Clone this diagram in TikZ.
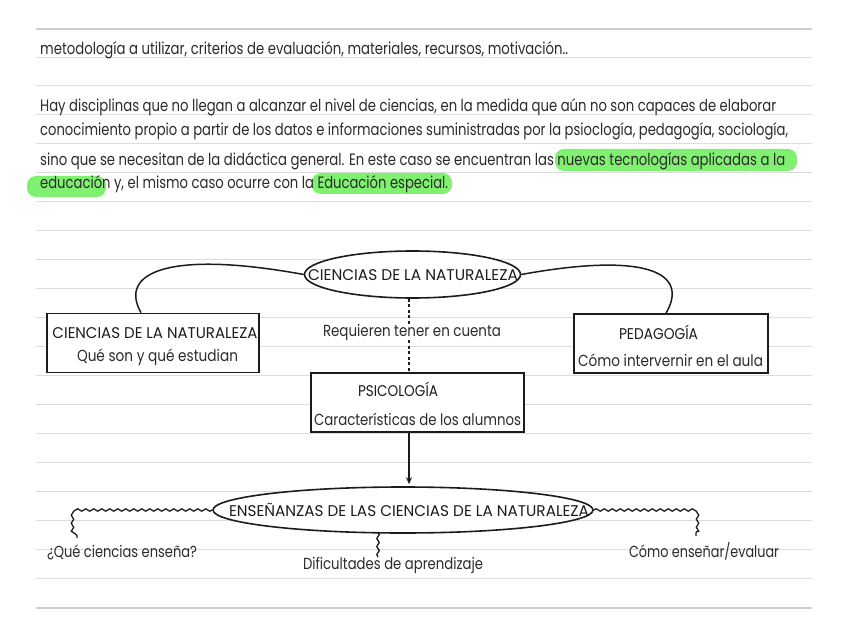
\documentclass[tikz,border=0pt]{standalone}
\usepackage{fontspec}
\setmainfont{Poppins}
\usepackage{graphicx}
\usetikzlibrary{shapes.geometric,decorations.pathmorphing,arrows.meta,calc}
\definecolor{ink}{HTML}{1C1C1C}
\definecolor{txt}{HTML}{2B2B2B}
\definecolor{rule}{HTML}{DCDCDC}
\definecolor{rulethick}{HTML}{CDCDCD}
\definecolor{hl}{RGB}{128,240,112}
\newcommand{\fw}[2]{\resizebox{#1pt}{\height}{#2}}
\begin{document}
\begin{tikzpicture}[x=1pt,y=-1pt,
  ruling/.style={draw=rule,line width=0.9pt},
  thickrule/.style={draw=rulethick,line width=2.4pt},
  bodytext/.style={anchor=base west,inner sep=0pt,text=txt,font=\fontsize{16.5}{19}\selectfont},
  lbl/.style={inner sep=0pt,text=txt,font=\fontsize{16}{19}\selectfont},
  caps/.style={inner sep=0pt,text=ink,font=\fontsize{15.5}{19}\selectfont},
  hlbox/.style={fill=hl,rounded corners=9pt,draw=none},
  boxnode/.style={draw=ink,fill=white,line width=1.6pt,inner sep=0pt},
  ellnode/.style={ellipse,draw=ink,fill=white,line width=1.6pt,inner sep=0pt},
  link/.style={draw=ink,line width=1.5pt},
  dotlink/.style={draw=ink,line width=2pt,dash pattern=on 3pt off 2.5pt},
  wavy/.style={draw=ink,line width=1.3pt,decorate,decoration={snake,amplitude=1.2pt,segment length=8pt}},
]
\useasboundingbox (0,0) rectangle (848,636);
\fill[white] (0,0) rectangle (848,636);

% notebook rules
\draw[thickrule] (36,29) -- (812,29);
\foreach \k in {0,...,18} {
  \draw[ruling] (36,{57+28.95*\k}) -- (812,{57+28.95*\k});
}
\draw[thickrule] (36,608) -- (812,608);

% highlights
\path[hlbox] (555,149) rectangle (797,171);
\path[hlbox] (27,176) rectangle (106,197);
\path[hlbox] (312,173) rectangle (452,194);

% paragraph text
\node[bodytext] (t1) at (40,55) {\fw{528}{metodología a utilizar, criterios de evaluación, materiales, recursos, motivación..}};
\node[bodytext] (t2) at (40,112) {\fw{736}{Hay disciplinas que no llegan a alcanzar el nivel de ciencias, en la medida que aún no son capaces de elaborar}};
\node[bodytext] (t3) at (40,136) {\fw{748}{conocimiento propio a partir de los datos e informaciones suministradas por la psioclogía, pedagogía, sociología,}};
\node[bodytext] (t4) at (40,166) {\fw{745}{sino que se necesitan de la didáctica general. En este caso se encuentran las nuevas tecnologías aplicadas a la}};
\node[bodytext] (t5) at (40,189) {\fw{408}{educación y, el mismo caso ocurre con la Educación especial.}};

% top ellipse
\node[ellnode,minimum width=216pt,minimum height=47pt] (top) at (412.5,274.5) {};
\node[caps] (topt) at (413,275) {\fw{210}{CIENCIAS DE LA NATURALEZA}};

% boxes
\node[boxnode,minimum width=212pt,minimum height=59pt] (lbox) at (153,343) {};
\node[caps] (lbox1) at (155,333) {\fw{205}{CIENCIAS DE LA NATURALEZA}};
\node[lbl] (lbox2) at (157.5,357) {\fw{161}{Qué son y qué estudian}};

\node[boxnode,minimum width=194pt,minimum height=59pt] (rbox) at (671,343.5) {};
\node[caps] (rbox1) at (658.5,332) {\fw{79}{PEDAGOGÍA}};
\node[lbl] (rbox2) at (670.5,360) {\fw{185}{Cómo intervernir en el aula}};

\node[boxnode,minimum width=213pt,minimum height=59pt] (psi) at (417.5,402.5) {};
\node[caps] (psi1) at (398,389) {\fw{80}{PSICOLOGÍA}};
\node[lbl] (psi2) at (417.5,419) {\fw{207}{Características de los alumnos}};

\node[lbl] (req) at (412,332) {\fw{178}{Requieren tener en cuenta}};

% bottom ellipse
\node[ellnode,minimum width=380pt,minimum height=46pt] (bell) at (403,510) {};
\node[caps] (bellt) at (409,510) {\fw{360}{ENSEÑANZAS DE LAS CIENCIAS DE LA NATURALEZA}};

% labels below
\node[lbl] (q1) at (122,552) {\fw{150}{¿Qué ciencias enseña?}};
\node[lbl] (q2) at (393,565) {\fw{180}{Dificultades de aprendizaje}};
\node[lbl] (q3) at (704,551) {\fw{150}{Cómo enseñar/evaluar}};

% helper coordinates
\coordinate (ax) at (409,0);
\coordinate (lc) at (141,0);
\coordinate (rc) at (666,0);
\coordinate (cl) at (77,510);
\coordinate (cl2) at (77,538);
\coordinate (cr) at (696,510);
\coordinate (cr2) at (696,536);
\coordinate (m1) at (378,532);
\coordinate (m2) at (378,557);

% connectors
\draw[link] (top.west) .. controls (170,250) and (118,272) .. (lbox.north -| lc);
\draw[link] (top.east) .. controls (645,252) and (690,272) .. (rbox.north -| rc);
\draw[dotlink] (top.south -| ax) -- (req.north -| ax);
\draw[dotlink] (req.south -| ax) -- (psi.north -| ax);
\draw[link,-{Stealth[length=7pt,width=6pt]}] (psi.south -| ax) -- ($(bell.north -| ax)+(0,-2)$);

\draw[wavy] (bell.west) -- (cl) -- (cl2);
\draw[wavy] (bell.east) -- (cr) -- (cr2);
\draw[wavy] (m1) -- (m2);
\end{tikzpicture}
\end{document}
